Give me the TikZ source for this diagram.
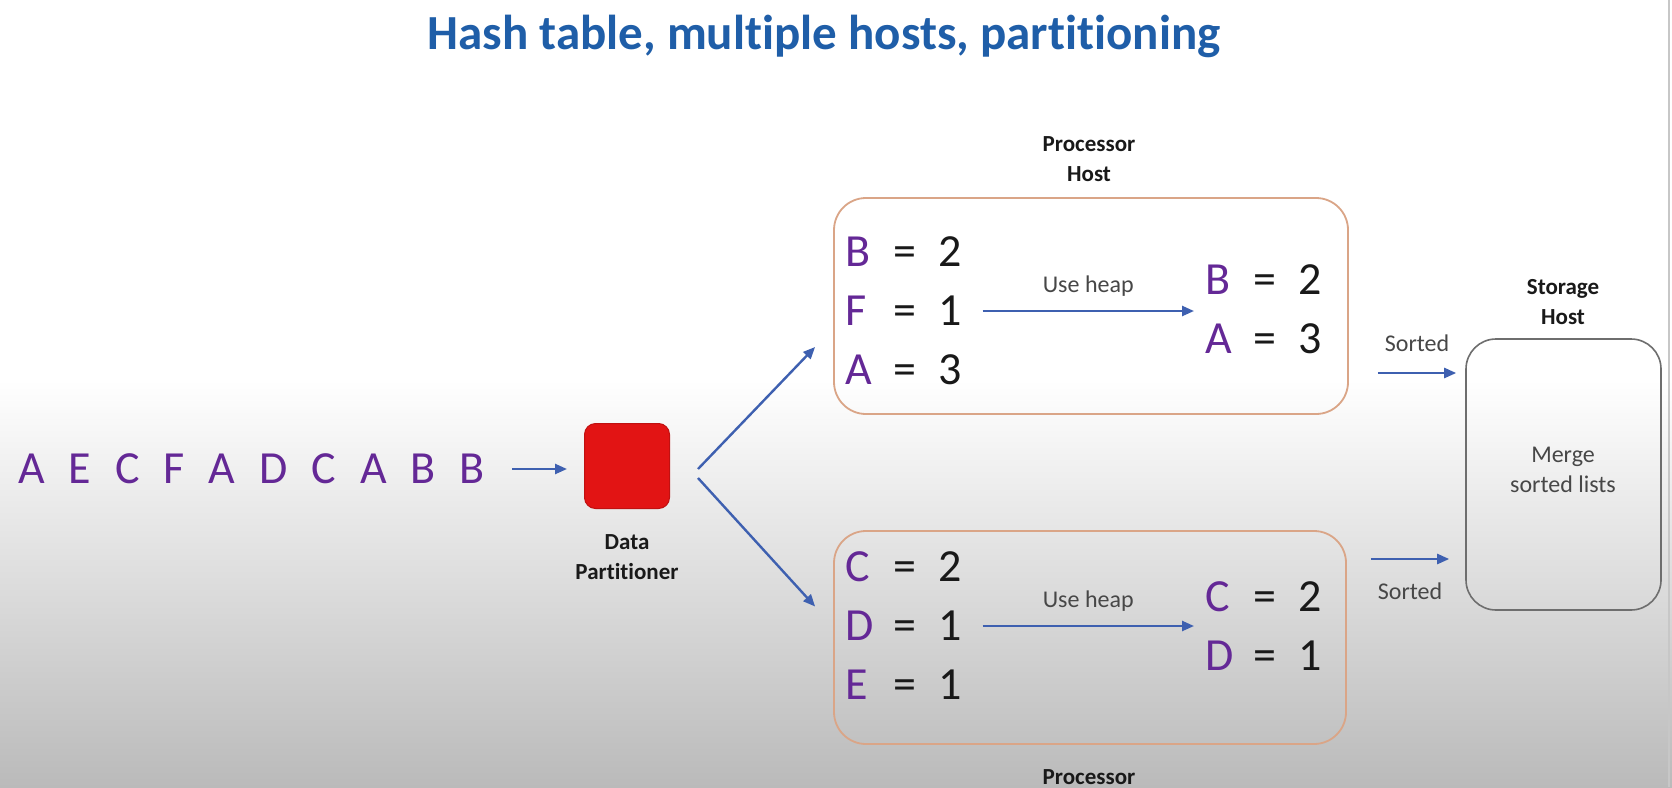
\documentclass[tikz,border=0pt]{standalone}
\usepackage{fontspec}
\setmainfont{Carlito}[Ligatures={NoCommon,NoRequired,NoContextual}]
\usetikzlibrary{arrows.meta}
\definecolor{titleblue}{RGB}{31,94,168}
\definecolor{purp}{RGB}{100,40,150}
\definecolor{txt}{RGB}{25,25,25}
\definecolor{arrblue}{RGB}{62,96,176}
\definecolor{boxorange}{RGB}{218,165,135}
\definecolor{boxgray}{RGB}{110,110,110}
\definecolor{redsq}{RGB}{226,20,20}
\definecolor{bgbottom}{RGB}{186,186,186}
\newcommand{\kv}[2]{\makebox[48pt][l]{\textcolor{purp}{#1}}\makebox[45pt][l]{=}#2}
\begin{document}
\begin{tikzpicture}[x=1pt,y=-1pt,
  arr/.style={draw=arrblue, line width=2.4pt, -{Triangle[length=12pt,width=10pt]}},
  big/.style={font=\fontsize{46}{59}\selectfont, text=txt, inner sep=0pt, align=left, anchor=west},
  lbl/.style={font=\fontsize{24}{30}\selectfont, text=txt!80, inner sep=0pt},
  blbl/.style={font=\bfseries\fontsize{23}{30}\selectfont, text=txt, inner sep=0pt, align=center},
  pbox/.style={draw=boxorange, line width=1.8pt, rounded corners=32pt, inner sep=0pt},
]
\useasboundingbox (0,0) rectangle (1672,787);
\fill[white] (0,0) rectangle (1672,787);
\shade[top color=white, bottom color=bgbottom] (0,380) rectangle (1672,787);
\draw[black!22, line width=1.5pt] (1669,0) -- (1669,787);

\node[font=\bfseries\fontsize{49}{58}\selectfont, text=titleblue, inner sep=0pt] (title) at (824,36) {Hash table, multiple hosts, partitioning};

\node[font=\fontsize{46}{55}\selectfont, text=purp, inner sep=0pt, anchor=west] (seq) at (18,469) {\spaceskip=24pt\relax A E C F A D C A B B};

\node[draw=redsq!85!black, fill=redsq, line width=1pt, rounded corners=11pt, minimum width=85pt, minimum height=85pt, inner sep=0pt] (part) at (627,466) {};
\node[blbl] (partlbl) at (627,557) {Data\\Partitioner};

\node[blbl] (ph1) at (1089,159) {Processor\\Host};
\node[blbl] (ph2) at (1089,777) {Processor};
\node[blbl] (sh) at (1563,302) {Storage\\Host};

\node[pbox, minimum width=514pt, minimum height=216pt] (pbox1) at (1091,306) {};
\node[pbox, minimum width=512pt, minimum height=213pt] (pbox2) at (1090,637.5) {};
\node[draw=boxgray, line width=1.6pt, rounded corners=30pt, minimum width=195pt, minimum height=271pt, inner sep=0pt] (store) at (1563.5,474.5) {};
\node[lbl, align=center] (merge) at (1563,470) {Merge\\sorted lists};

\node[big] (L1) at (845,311) {\kv{B}{2}\\\kv{F}{1}\\\kv{A}{3}};
\node[big] (R1) at (1205,309) {\kv{B}{2}\\\kv{A}{3}};
\node[big] (L2) at (845,626) {\kv{C}{2}\\\kv{D}{1}\\\kv{E}{1}};
\node[big] (R2) at (1205,626.5) {\kv{C}{2}\\\kv{D}{1}};

\coordinate (a1) at (seq.east -| part.west);
\draw[arr, shorten <=27pt, shorten >=17pt] (seq.east) -- (a1);

\coordinate (h1) at (L1.east -| R1.west);
\draw[arr, shorten <=21pt, shorten >=11pt] (L1.east) -- node[lbl, above=13pt, pos=0.52] (uh1) {Use heap} (h1);
\coordinate (h2) at (L2.east -| R2.west);
\draw[arr, shorten <=21pt, shorten >=11pt] (L2.east) -- node[lbl, above=13pt, pos=0.52] (uh2) {Use heap} (h2);

\draw[arr] ([xshift=28pt,yshift=-3pt]part.east) -- ([xshift=-18pt,yshift=-41pt]pbox1.west);
\draw[arr] ([xshift=28pt,yshift=-12pt]part.east) -- ([xshift=-18pt,yshift=31pt]pbox2.west);

\draw[arr] ([xshift=29pt,yshift=-67pt]pbox1.east) -- node[lbl, above=20pt] (so1) {Sorted} ([xshift=-9pt,yshift=101.5pt]store.west);
\draw[arr] ([xshift=24pt,yshift=78.5pt]pbox2.east) -- node[lbl, below=23pt] (so2) {Sorted} ([xshift=-16pt,yshift=-84.5pt]store.west);
\end{tikzpicture}
\end{document}
